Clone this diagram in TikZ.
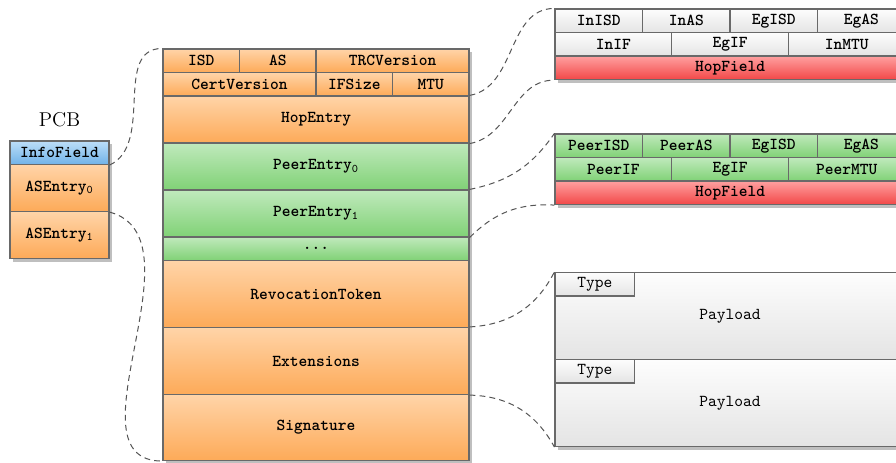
\documentclass[tikz,border=0pt]{standalone}
\usetikzlibrary{shadows}
\definecolor{orTop}{RGB}{255,212,168}
\definecolor{orBot}{RGB}{253,170,88}
\definecolor{grTop}{RGB}{192,233,188}
\definecolor{grBot}{RGB}{128,210,118}
\definecolor{blTop}{RGB}{188,222,248}
\definecolor{blBot}{RGB}{112,178,232}
\definecolor{rdTop}{RGB}{255,160,160}
\definecolor{rdBot}{RGB}{242,72,72}
\definecolor{gyTop}{RGB}{253,253,253}
\definecolor{gyBot}{RGB}{228,228,228}
\definecolor{edge}{RGB}{105,105,105}
\definecolor{dashcol}{RGB}{85,85,85}
\tikzset{
  cell/.style={draw=edge, line width=0.7pt, inner sep=0pt, font=\ttfamily\bfseries, text=black},
  orange/.style={top color=orTop, bottom color=orBot},
  green/.style={top color=grTop, bottom color=grBot},
  blue/.style={top color=blTop, bottom color=blBot},
  red/.style={top color=rdTop, bottom color=rdBot},
  grey/.style={top color=gyTop, bottom color=gyBot},
  plain/.style={font=\ttfamily},
  blockshadow/.style={fill=white, drop shadow={shadow xshift=1.8pt, shadow yshift=-1.8pt, opacity=0.25, fill=black}},
  conn/.style={draw=dashcol, line width=0.6pt, dash pattern=on 3.5pt off 2.5pt}
}
\newcommand{\cellat}[7]{\node[cell,#6,minimum width=#4*0.6pt,minimum height=#5*0.6pt] (#1) at ({#2+#4/2},{#3+#5/2}) {#7};}
\begin{document}
\begin{tikzpicture}[x=0.6pt,y=-0.6pt]
\useasboundingbox (0,0) rectangle (896,462);
% shadows
\path[blockshadow] (10,141) rectangle (109,258.5);
\path[blockshadow] (163,49) rectangle (469,460.5);
\path[blockshadow] (555,9) rectangle (905,79.5);
\path[blockshadow] (555,134) rectangle (905,204.5);
\path[blockshadow] (555,272.5) rectangle (905,446.5);
% PCB
\node[font=\fontsize{12}{14}\selectfont] (pcb) at (59.5,120) {PCB};
\cellat{info}{10}{141}{99}{23.5}{blue}{InfoField}
\cellat{ase0}{10}{164.5}{99}{47}{orange}{ASEntry\textsubscript{\mdseries 0}}
\cellat{ase1}{10}{211.5}{99}{47}{orange}{ASEntry\textsubscript{\mdseries 1}}
% middle column
\cellat{isd}{163}{49}{76.5}{23.5}{orange}{ISD}
\cellat{as}{239.5}{49}{76.5}{23.5}{orange}{AS}
\cellat{trc}{316}{49}{153}{23.5}{orange}{TRCVersion}
\cellat{cert}{163}{72.5}{153}{23.5}{orange}{CertVersion}
\cellat{ifs}{316}{72.5}{76.5}{23.5}{orange}{IFSize}
\cellat{mtu}{392.5}{72.5}{76.5}{23.5}{orange}{MTU}
\cellat{hop}{163}{96}{306}{47}{orange}{HopEntry}
\cellat{pe0}{163}{143}{306}{47}{green}{PeerEntry\textsubscript{\mdseries 0}}
\cellat{pe1}{163}{190}{306}{47}{green}{PeerEntry\textsubscript{\mdseries 1}}
\cellat{dots}{163}{237}{306}{23.5}{green}{...}
\cellat{rev}{163}{260.5}{306}{67}{orange}{RevocationToken}
\cellat{ext}{163}{327.5}{306}{67}{orange}{Extensions}
\cellat{sig}{163}{394.5}{306}{66}{orange}{Signature}
% hop field box
\cellat{inisd}{555}{9}{87.5}{23.5}{grey}{InISD}
\cellat{inas}{642.5}{9}{87.5}{23.5}{grey}{InAS}
\cellat{egisda}{730}{9}{87.5}{23.5}{grey}{EgISD}
\cellat{egasa}{817.5}{9}{87.5}{23.5}{grey}{EgAS}
\cellat{inif}{555}{32.5}{116.67}{23.5}{grey}{InIF}
\cellat{egifa}{671.67}{32.5}{116.67}{23.5}{grey}{EgIF}
\cellat{inmtu}{788.33}{32.5}{116.67}{23.5}{grey}{InMTU}
\cellat{hfa}{555}{56}{350}{23.5}{red}{HopField}
% peer box
\cellat{peerisd}{555}{134}{87.5}{23.5}{green}{PeerISD}
\cellat{peeras}{642.5}{134}{87.5}{23.5}{green}{PeerAS}
\cellat{egisdb}{730}{134}{87.5}{23.5}{green}{EgISD}
\cellat{egasb}{817.5}{134}{87.5}{23.5}{green}{EgAS}
\cellat{peerif}{555}{157.5}{116.67}{23.5}{green}{PeerIF}
\cellat{egifb}{671.67}{157.5}{116.67}{23.5}{green}{EgIF}
\cellat{peermtu}{788.33}{157.5}{116.67}{23.5}{green}{PeerMTU}
\cellat{hfb}{555}{181}{350}{23.5}{red}{HopField}
% extensions
\cellat{pay1}{555}{272.5}{350}{87}{grey,plain}{Payload}
\cellat{type1}{555}{272.5}{79.5}{23.5}{grey,plain}{Type}
\cellat{pay2}{555}{359.5}{350}{87}{grey,plain}{Payload}
\cellat{type2}{555}{359.5}{79.5}{23.5}{grey,plain}{Type}
% connectors
\draw[conn] (info.south east) to[out=25,in=180] (isd.north west);
\draw[conn] (ase0.south east) to[out=-15,in=180] (sig.south west);
\draw[conn] (hop.north east) to[out=10,in=180] (inisd.north west);
\draw[conn] (hop.south east) to[out=10,in=180] (hfa.south west);
\draw[conn] (pe1.north east) to[bend right=22] (peerisd.north west);
\draw[conn] (pe1.south east) to[bend left=24] (hfb.south west);
\draw[conn] (ext.north east) to[bend right=30] (type1.north west);
\draw[conn] (ext.south east) to[bend left=30] (pay2.south west);
\end{tikzpicture}
\end{document}
